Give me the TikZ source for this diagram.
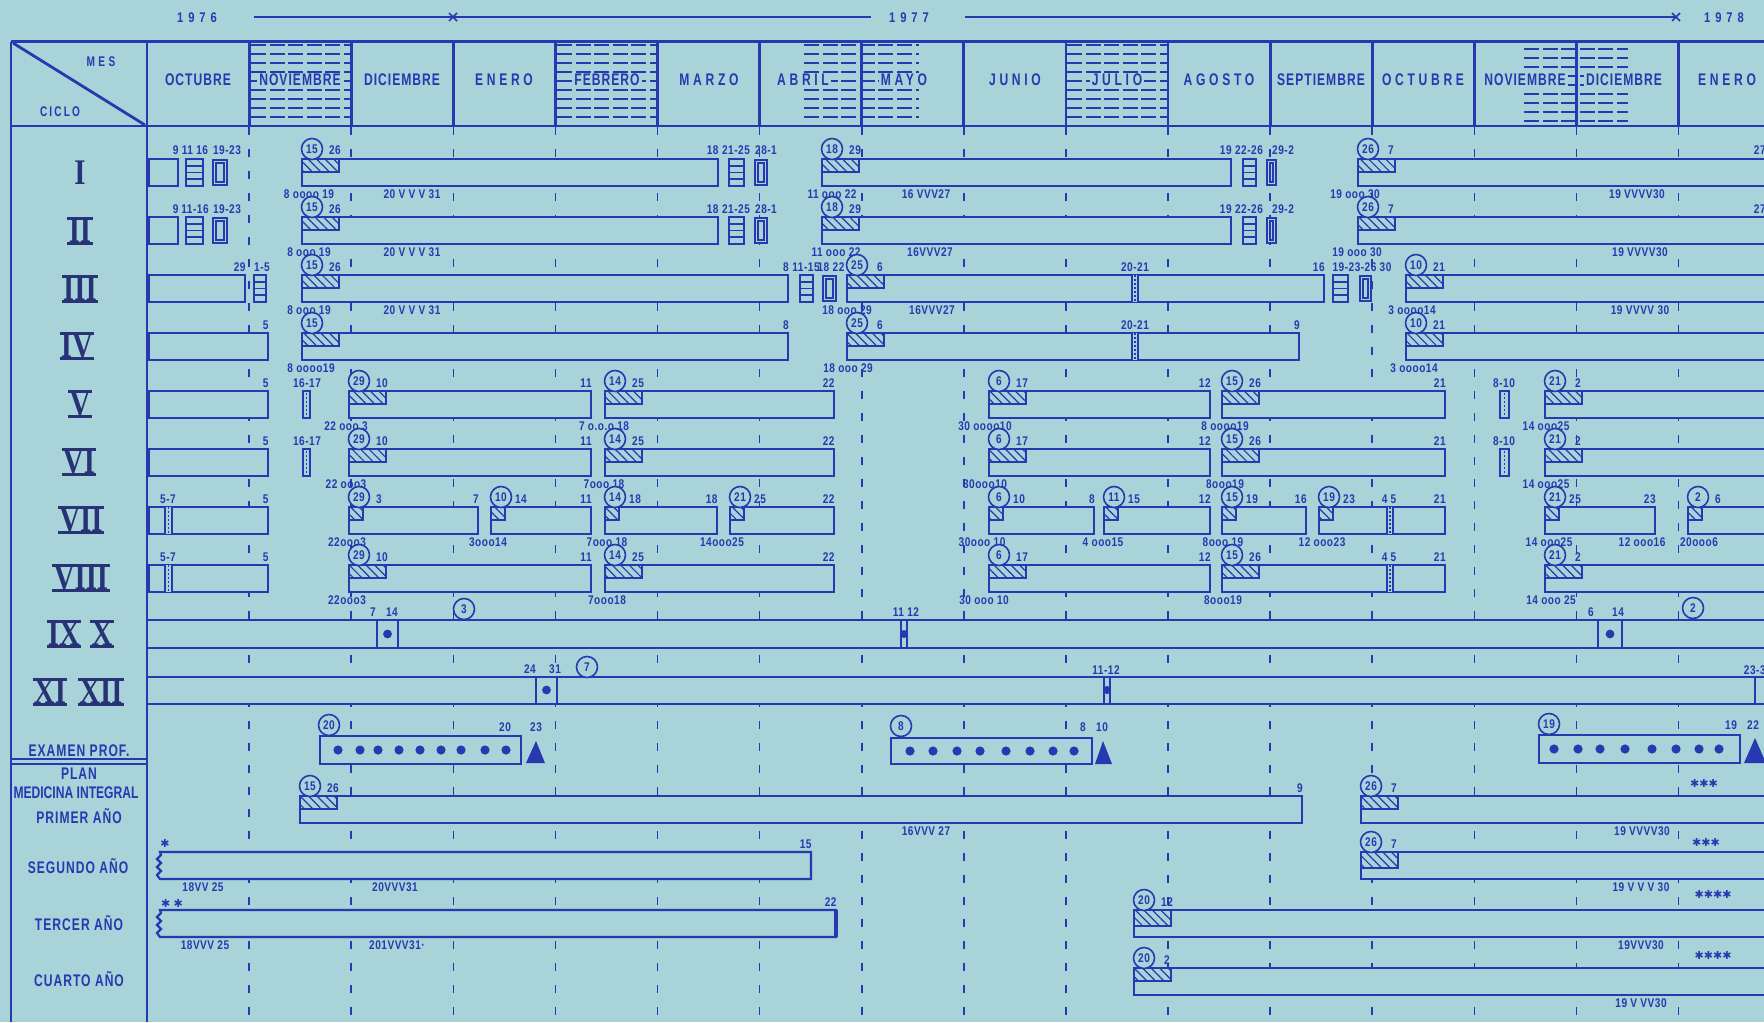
\documentclass[tikz,border=0pt]{standalone}
\usepackage{fontspec}
\usetikzlibrary{patterns.meta}
\newfontfamily\LettF{Liberation Sans}[FakeStretch=0.72,LetterSpace=6]
\newfontfamily\NumF{Liberation Sans}[FakeStretch=0.8,LetterSpace=4]
\newfontfamily\RomF{Liberation Serif}[FakeStretch=0.8]
\newfontfamily\SymF{DejaVu Sans}
\definecolor{bg}{RGB}{168,211,216}
\definecolor{ink}{RGB}{40,56,176}
\definecolor{navy}{RGB}{40,50,118}
% row helpers
\newcommand\cRow[1]{\def\rT{#1}\pgfmathsetmacro\rB{#1+27}}
\newcommand\cTop[2]{\node[num,anchor=base] at (#1,\rT-4) {#2};}
\newcommand\cEnd[2]{\node[num,anchor=base east] at (#1+1,\rT-4) {#2};}
\newcommand\cBelow[2]{\node[num,anchor=base] at (#1,\rB+12) {#2};}
\newcommand\cPlain[3]{\draw[barr] (#1,\rT) rectangle (#2,\rB); \cEnd{#2}{#3}}
\newcommand\cSegW[5]{\draw[barr] (#1,\rT) rectangle (#2,\rB);
  \draw[hat] (#1,\rT) rectangle (#1+37,\rT+13);
  \node[circ] at (#1+10,\rT-10) {#3}; \cTop{#1+33}{#4} \cEnd{#2}{#5}}
\newcommand\cSegT[5]{\draw[barr] (#1,\rT) rectangle (#2,\rB);
  \draw[hat] (#1,\rT) rectangle (#1+37,\rT+16);
  \node[circ] at (#1+10,\rT-10) {#3}; \cTop{#1+33}{#4} \cEnd{#2}{#5}}
\newcommand\cSegN[5]{\draw[barr] (#1,\rT) rectangle (#2,\rB);
  \draw[hat] (#1,\rT) rectangle (#1+14,\rT+13);
  \node[circ] at (#1+10,\rT-10) {#3}; \cTop{#1+30}{#4} \cEnd{#2}{#5}}
\newcommand\cStripe[2]{\draw[barr] (#1,\rT) rectangle (#2,\rB);
  \foreach \k in {1,2,3} {\draw[inkl] (#1,\rT+6.75*\k) -- (#2,\rT+6.75*\k);}}
\newcommand\cDbl[2]{\draw[barr] (#1,\rT+1) rectangle (#2,\rB-1); \draw[inkl] (#1+3,\rT+4) rectangle (#2-3,\rB-4);}
\newcommand\cDot[2]{\draw[barr] (#1,\rT) rectangle (#2,\rB);
  \draw[draw=ink,line width=0.9pt,dash pattern=on 1pt off 1pt] ({(#1+#2)/2},\rT+2) -- ({(#1+#2)/2},\rB-2);}
\newcommand\cBand[2]{\fill[bg] (#1,\rT) rectangle (#2,\rB); \draw[inkl] (#1,\rT) -- (#1,\rB) (#2,\rT) -- (#2,\rB);
  \draw[draw=ink,line width=0.9pt,dash pattern=on 1pt off 1pt] ({(#1+#2)/2},\rT) -- ({(#1+#2)/2},\rB);}
\newcommand\cWavy[3]{\draw[barr] (#1,\rT) -- (#2,\rT) -- (#2,\rB) -- (#1,\rB) -- (#1-3,\rB-4) -- (#1+1,\rB-8) -- (#1-3,\rB-12) -- (#1+1,\rB-16) -- (#1-3,\rB-20) -- (#1+1,\rB-24) -- cycle; \cEnd{#2}{#3}}
\newcommand\cHD[3]{\foreach \k in {0,...,8} {\draw[hdash] (#1,#3+9*\k) -- (#2,#3+9*\k);}}
\newcommand\cRN[4]{\node[rn] (#1) at (#2,#3) {#4};
  \draw[rnbar] ([xshift=-0.5pt]#1.north west) -- ([xshift=0.5pt]#1.north east) ([xshift=-0.5pt]#1.south west) -- ([xshift=0.5pt]#1.south east);}
\begin{document}
\begin{tikzpicture}[x=0.5pt,y=-0.5pt,
  barr/.style={draw=ink,line width=1.1pt,fill=bg},
  hat/.style={draw=ink,line width=0.9pt,pattern={Lines[angle=-45,distance=3pt,line width=0.6pt]},pattern color=ink},
  inkl/.style={draw=ink,line width=0.8pt},
  framel/.style={draw=ink,line width=1.4pt},
  gridl/.style={draw=ink,line width=0.8pt,dash pattern=on 4pt off 7pt},
  hdash/.style={draw=ink,line width=1pt,dash pattern=on 7.5pt off 1.8pt},
  num/.style={font=\NumF\bfseries\fontsize{6.3}{6.5}\selectfont,text=ink,inner sep=0pt},
  circ/.style={circle,draw=ink,line width=0.8pt,fill=bg,minimum size=10.5pt,inner sep=0pt,font=\NumF\bfseries\fontsize{6.3}{6.5}\selectfont,text=ink},
  hdr/.style={font=\LettF\bfseries\fontsize{8.4}{9}\selectfont,text=ink,fill=bg,inner xsep=1pt,inner ysep=0.5pt,text height=6pt,text depth=0pt},
  hdrs/.style={font={\LettF\bfseries\fontsize{8.4}{9}\selectfont\addfontfeature{LetterSpace=22}},text=ink,fill=bg,inner xsep=1pt,inner ysep=0.5pt,text height=6pt,text depth=0pt},
  lab/.style={font=\LettF\bfseries\fontsize{8.4}{9}\selectfont,text=ink,inner sep=0pt},
  yr/.style={font={\NumF\bfseries\fontsize{7}{7}\selectfont\addfontfeature{LetterSpace=35}},text=ink,inner sep=0pt},
  rn/.style={font=\RomF\bfseries\fontsize{18}{18}\selectfont,text=navy,inner sep=0pt,text height=11.9pt,text depth=0pt},
  rnbar/.style={draw=navy,line width=1.3pt},
  sym/.style={font=\SymF\fontsize{5.5}{5.5}\selectfont,text=ink,inner sep=0pt}]
\useasboundingbox (0,0) rectangle (1764,1022);
\clip (0,0) rectangle (1764,1022);
\fill[bg] (0,0) rectangle (1764,1022);

% ---- year line
\node[yr] (y76) at (197,18) {1976};
\node[yr] (y77) at (909,18) {1977};
\node[yr] (y78) at (1724,18) {1978};
\draw[draw=ink,line width=1pt] (254,17) -- (871,17) (965,17) -- (1676,17);
\draw[draw=ink,line width=0.8pt] (449,13) -- (457,21) (449,21) -- (457,13) (1672,13) -- (1680,21) (1672,21) -- (1680,13);

% ---- header hatching
\cHD{251}{351}{45}
\cHD{557}{657}{45}
\cHD{1067}{1167}{45}
\cHD{804}{919}{45}
\cHD{1524}{1628}{49}

% ---- grid
\foreach \i in {1,...,15} {\draw[gridl] ({147+102.1*\i},127) -- ({147+102.1*\i},1022);}
\foreach \i in {1,...,15} {\draw[framel] ({147+102.1*\i},41.7) -- ({147+102.1*\i},126);}
\draw[framel] (11,41.7) -- (1780,41.7) (11,126) -- (1780,126);
\draw[framel] (11,41.7) -- (11,1022) (147,41.7) -- (147,1022);
\draw[framel] (13,43) -- (145,125);
\draw[framel] (11,759) -- (147,759) (11,764) -- (147,764);

% ---- header texts
\node[lab,font={\LettF\bfseries\fontsize{7}{7}\selectfont\addfontfeature{LetterSpace=25}}] (mes) at (101,62) {MES};
\node[lab,font={\LettF\bfseries\fontsize{7}{7}\selectfont\addfontfeature{LetterSpace=15}}] (ciclo) at (60,112) {CICLO};
\node[hdr] (m0) at (198,80) {OCTUBRE};
\node[hdr] (m1) at (300,80) {NOVIEMBRE};
\node[hdr] (m2) at (402,80) {DICIEMBRE};
\node[hdrs] (m3) at (504,80) {ENERO};
\node[hdr] (m4) at (607,80) {FEBRERO};
\node[hdrs] (m5) at (709,80) {MARZO};
\node[hdrs] (m6) at (803,80) {ABRIL};
\node[hdrs] (m7) at (904,80) {MAYO};
\node[hdrs] (m8) at (1015,80) {JUNIO};
\node[hdrs] (m9) at (1117,80) {JULIO};
\node[hdrs] (m10) at (1219,80) {AGOSTO};
\node[hdr] (m11) at (1321,80) {SEPTIEMBRE};
\node[hdrs] (m12) at (1423,80) {OCTUBRE};
\node[hdr] (m13) at (1525,80) {NOVIEMBRE};
\node[hdr] (m14) at (1624,80) {DICIEMBRE};
\node[hdrs] (m15) at (1727,80) {ENERO};

% ---- roman numerals
\node[rn] (rI) at (80,173) {I};
\cRN{rII}{80}{231}{II}
\cRN{rIII}{80}{289}{III}
\cRN{rIV}{77}{346}{IV}
\cRN{rV}{80}{404}{V}
\cRN{rVI}{79}{462}{VI}
\cRN{rVII}{81}{520}{VII}
\cRN{rVIII}{81}{578}{VIII}
\cRN{rIX}{64}{634}{IX}
\cRN{rX}{102}{634}{X}
\cRN{rXI}{50}{692}{XI}
\cRN{rXII}{101}{692}{XII}

% ---- left column lower labels
\node[lab] (ex) at (79,751) {EXAMEN PROF.};
\node[lab] (pl) at (79,774) {PLAN};
\node[lab,font={\LettF\bfseries\fontsize{8.4}{9}\selectfont\addfontfeature{LetterSpace=0}}] (mi) at (76,793) {MEDICINA INTEGRAL};
\node[lab] (pa) at (79,816) {PRIMER AÑO};
\node[lab] (sa) at (78,866) {SEGUNDO AÑO};
\node[lab] (ta) at (79,923) {TERCER AÑO};
\node[lab] (ca) at (79,979) {CUARTO AÑO};

% ---- Row I
\cRow{159}
\cPlain{149}{178}{9}
\cStripe{186}{203} \cTop{195}{11 16}
\cDbl{213}{227} \cTop{227}{19-23}
\cSegW{302}{718}{15}{26}{18}
\cStripe{729}{744} \cTop{736}{21-25}
\cDbl{755}{767} \cTop{766}{28-1}
\cSegW{822}{1231}{18}{29}{19}
\cStripe{1243}{1256} \cTop{1249}{22-26}
\cDbl{1267}{1276} \cTop{1283}{29-2}
\cSegW{1358}{1780}{26}{7}{}
\node[num,anchor=base east] at (1766,\rT-4) {27};
\cBelow{309}{8 oooo 19} \cBelow{412}{20 V V V 31} \cBelow{832}{11 ooo 22} \cBelow{926}{16 VVV27} \cBelow{1355}{19 ooo 30} \cBelow{1637}{19 VVVV30}

% ---- Row II
\cRow{217}
\cPlain{149}{178}{9}
\cStripe{186}{203} \cTop{195}{11-16}
\cDbl{213}{227} \cTop{227}{19-23}
\cSegW{302}{718}{15}{26}{18}
\cStripe{729}{744} \cTop{736}{21-25}
\cDbl{755}{767} \cTop{766}{28-1}
\cSegW{822}{1231}{18}{29}{19}
\cStripe{1243}{1256} \cTop{1249}{22-26}
\cDbl{1267}{1276} \cTop{1283}{29-2}
\cSegW{1358}{1780}{26}{7}{}
\node[num,anchor=base east] at (1766,\rT-4) {27};
\cBelow{309}{8 ooo 19} \cBelow{412}{20 V V V 31} \cBelow{836}{11 ooo 22} \cBelow{930}{16VVV27} \cBelow{1357}{19 ooo 30} \cBelow{1640}{19 VVVV30}

% ---- Row III
\cRow{275}
\cPlain{149}{245}{29}
\cStripe{254}{266} \cTop{262}{1-5}
\cSegW{302}{788}{15}{26}{8}
\cStripe{800}{813} \cTop{806}{11-15}
\cDbl{823}{836} \cTop{831}{18 22}
\cSegW{847}{1324}{25}{6}{16}
\cBand{1132}{1138} \cTop{1135}{20-21}
\cStripe{1333}{1348} \cDbl{1360}{1371} \cTop{1362}{19-23-26 30}
\cSegW{1406}{1780}{10}{21}{}
\cBelow{309}{8 ooo 19} \cBelow{412}{20 V V V 31} \cBelow{847}{18 ooo 29} \cBelow{932}{16VVV27} \cBelow{1412}{3 oooo14} \cBelow{1640}{19 VVVV 30}

% ---- Row IV
\cRow{333}
\cPlain{149}{268}{5}
\cSegW{302}{788}{15}{}{8}
\cSegW{847}{1299}{25}{6}{9}
\cBand{1132}{1138} \cTop{1135}{20-21}
\cSegW{1406}{1780}{10}{21}{}
\cBelow{311}{8 oooo19} \cBelow{848}{18 ooo 29} \cBelow{1414}{3 oooo14}

% ---- Row V
\cRow{391}
\cPlain{149}{268}{5}
\cDot{303}{310} \cTop{307}{16-17}
\cSegW{349}{591}{29}{10}{11}
\cSegW{605}{834}{14}{25}{22}
\cSegW{989}{1210}{6}{17}{12}
\cSegW{1222}{1445}{15}{26}{21}
\cDot{1500}{1509} \cTop{1504}{8-10}
\cSegW{1545}{1780}{21}{2}{}
\cBelow{346}{22 ooo 3} \cBelow{604}{7 o.o.o 18} \cBelow{985}{30 oooo10} \cBelow{1225}{8 oooo19} \cBelow{1546}{14 ooo25}

% ---- Row VI
\cRow{449}
\cPlain{149}{268}{5}
\cDot{303}{310} \cTop{307}{16-17}
\cSegW{349}{591}{29}{10}{11}
\cSegW{605}{834}{14}{25}{22}
\cSegW{989}{1210}{6}{17}{12}
\cSegW{1222}{1445}{15}{26}{21}
\cDot{1500}{1509} \cTop{1504}{8-10}
\cSegW{1545}{1780}{21}{2}{}
\cBelow{346}{22 ooo3} \cBelow{604}{7ooo 18} \cBelow{985}{30ooo10} \cBelow{1225}{8ooo19} \cBelow{1546}{14 ooo25}

% ---- Row VII
\cRow{507}
\cPlain{149}{268}{5} \cBand{165}{172} \cTop{168}{5-7}
\cSegN{349}{478}{29}{3}{7}
\cSegN{491}{591}{10}{14}{11}
\cSegN{605}{717}{14}{18}{18}
\cSegN{730}{834}{21}{25}{22}
\cSegN{989}{1094}{6}{10}{8}
\cSegN{1104}{1210}{11}{15}{12}
\cSegN{1222}{1306}{15}{19}{16}
\cSegN{1319}{1445}{19}{23}{21} \cBand{1387}{1393} \cTop{1389}{4 5}
\cSegN{1545}{1655}{21}{25}{23}
\cSegN{1688}{1780}{2}{6}{}
\cBelow{347}{22ooo3} \cBelow{488}{3ooo14} \cBelow{607}{7ooo 18} \cBelow{722}{14ooo25} \cBelow{982}{30ooo 10} \cBelow{1103}{4 ooo15} \cBelow{1223}{8ooo 19} \cBelow{1322}{12 ooo23} \cBelow{1549}{14 ooo25} \cBelow{1642}{12 ooo16} \cBelow{1699}{20ooo6}

% ---- Row VIII
\cRow{565}
\cPlain{149}{268}{5} \cBand{165}{172} \cTop{168}{5-7}
\cSegW{349}{591}{29}{10}{11}
\cSegW{605}{834}{14}{25}{22}
\cSegW{989}{1210}{6}{17}{12}
\cSegW{1222}{1445}{15}{26}{21} \cBand{1387}{1393} \cTop{1389}{4 5}
\cSegW{1545}{1780}{21}{2}{}
\cBelow{347}{22ooo3} \cBelow{607}{7ooo18} \cBelow{984}{30 ooo 10} \cBelow{1223}{8ooo19} \cBelow{1551}{14 ooo 25}

% ---- IX X / XI XII bands
\draw[barr] (147,620) rectangle (1780,648);
\draw[barr] (147,677) rectangle (1780,704);
\draw[barr] (377,620) rectangle (398,648); \fill[ink] (387.5,634) circle[radius=2.2pt];
\node[num] at (373,612) {7}; \node[num] at (392,612) {14}; \node[circ] (c3) at (464,609) {3};
\draw[barr] (901,620) rectangle (907,648); \fill[ink] (904,634) circle[radius=2pt];
\node[num] at (906,612) {11 12};
\draw[barr] (1598,620) rectangle (1622,648); \fill[ink] (1610,634) circle[radius=2.2pt];
\node[num] at (1591,612) {6}; \node[num] at (1618,612) {14}; \node[circ] (c2) at (1693,608) {2};
\draw[barr] (536,677) rectangle (557,704); \fill[ink] (546.5,690) circle[radius=2.2pt];
\node[num] at (530,669) {24}; \node[num] at (555,669) {31}; \node[circ] (c7) at (587,667) {7};
\draw[barr] (1104,677) rectangle (1110,704); \fill[ink] (1107,690) circle[radius=2pt];
\node[num] at (1106,670) {11-12};
\draw[barr] (1755,677) rectangle (1780,704);
\node[num,anchor=east] at (1766,670) {23-3};

% ---- Examen prof.
\draw[barr] (320,736) rectangle (521,764);
\foreach \d in {338,360,378,399,420,441,461,485,506} {\fill[ink] (\d,750) circle[radius=2.3pt];}
\fill[ink] (526,763) -- (536,741) -- (545,763) -- cycle;
\node[circ] (e1) at (329,725) {20}; \node[num] at (505,727) {20}; \node[num] at (536,727) {23};
\draw[barr] (891,738) rectangle (1092,764);
\foreach \d in {910,933,957,980,1006,1030,1053,1074} {\fill[ink] (\d,751) circle[radius=2.3pt];}
\fill[ink] (1095,764) -- (1103,741) -- (1112,764) -- cycle;
\node[circ] (e2) at (901,726) {8}; \node[num] at (1083,727) {8}; \node[num] at (1102,727) {10};
\draw[barr] (1539,735) rectangle (1740,763);
\foreach \d in {1554,1578,1600,1625,1652,1676,1699,1719} {\fill[ink] (\d,749) circle[radius=2.3pt];}
\fill[ink] (1744,763) -- (1755,738) -- (1766,763) -- cycle;
\node[circ] (e3) at (1549,724) {19}; \node[num] at (1731,725) {19}; \node[num] at (1753,725) {22};

% ---- Primer año
\cRow{796}
\cSegW{300}{1302}{15}{26}{9}
\cBelow{926}{16VVV 27}
\cSegW{1361}{1780}{26}{7}{}
\node[sym] at (1704,783) {✱✱✱};
\cBelow{1642}{19 VVVV30}

% ---- Segundo año
\cRow{852}
\cWavy{160}{811}{15}
\node[sym] at (165,843) {✱};
\cBelow{203}{18VV 25} \cBelow{395}{20VVV31}
\cSegT{1361}{1780}{26}{7}{}
\node[sym] at (1706,842) {✱✱✱};
\cBelow{1641}{19 V V V 30}

% ---- Tercer año
\cRow{910}
\cWavy{160}{836}{22}
\draw[draw=ink,line width=1.8pt] (836,\rT) -- (836,\rB);
\node[sym] at (172,903) {✱ ✱};
\cBelow{205}{18VVV 25} \cBelow{397}{201VVV31·}
\cSegT{1134}{1780}{20}{12}{}
\node[sym] at (1713,894) {✱✱✱✱};
\cBelow{1641}{19VVV30}

% ---- Cuarto año
\cRow{968}
\cSegW{1134}{1780}{20}{2}{}
\node[sym] at (1713,955) {✱✱✱✱};
\cBelow{1641}{19 V VV30}
\end{tikzpicture}
\end{document}
